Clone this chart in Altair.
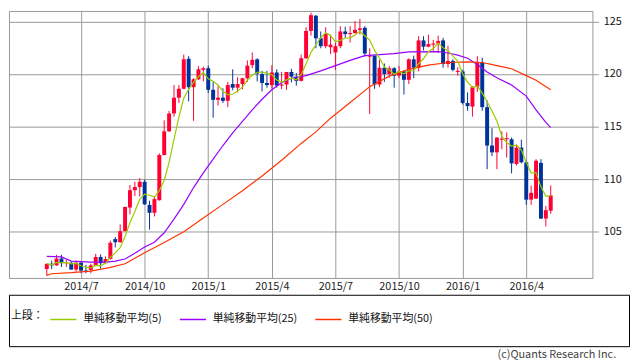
import altair as alt
import pandas as pd

# ---- weekly USD/JPY candles (week start dates) ----
start_date = "2014-05-19"
opens = [101.45, 101.95, 101.80, 102.45, 102.00, 102.05, 101.40, 102.05, 101.30, 101.35,
         101.80, 102.60, 102.00, 102.40, 104.30, 104.00, 105.05, 107.30, 108.95, 109.25,
         109.75, 107.55, 106.80, 108.00, 112.30, 114.55, 116.25, 117.75, 118.60, 121.45,
         118.75, 119.50, 120.40, 120.55, 118.50, 117.55, 117.75, 117.45, 119.05, 118.70,
         119.05, 119.60, 120.85, 121.40, 120.00, 119.15, 118.95, 120.15, 118.90, 119.00,
         120.20, 119.75, 119.35, 121.50, 124.10, 125.55, 123.40, 122.65, 122.55, 122.05,
         122.65, 124.05, 123.80, 123.90, 124.20, 124.40, 121.65, 121.75, 119.00, 120.60,
         120.00, 120.55, 119.85, 120.25, 119.45, 121.40, 120.60, 123.20, 122.60, 122.80,
         122.90, 123.20, 120.95, 121.25, 120.20, 120.25, 117.25, 116.90, 118.75, 121.10,
         116.85, 113.20, 112.55, 113.75, 113.80, 113.80, 111.45, 113.00, 111.60, 108.05,
         108.15, 111.55, 106.25, 107.00]
highs = [101.95, 102.25, 102.80, 102.80, 102.30, 102.15, 102.25, 102.10, 101.85, 101.95,
         102.90, 102.85, 102.65, 104.15, 104.50, 105.70, 107.40, 109.45, 109.75, 110.10,
         109.95, 107.95, 108.40, 112.45, 115.60, 116.50, 118.95, 118.95, 121.85, 121.70,
         119.60, 120.75, 120.70, 120.80, 119.25, 118.85, 118.65, 119.25, 120.45, 119.70,
         119.65, 121.30, 122.05, 121.50, 120.30, 120.30, 120.85, 120.45, 120.20, 120.00,
         120.50, 120.10, 121.85, 124.45, 125.85, 125.60, 124.05, 124.45, 123.75, 123.00,
         124.55, 124.50, 124.55, 125.05, 125.25, 124.55, 122.45, 121.75, 121.35, 121.00,
         120.75, 120.65, 120.75, 120.35, 121.50, 121.75, 123.60, 123.60, 123.75, 123.25,
         123.65, 123.45, 122.70, 121.40, 120.65, 120.40, 118.25, 118.85, 121.70, 121.55,
         117.50, 114.85, 114.00, 114.55, 114.45, 113.95, 113.30, 113.75, 111.75, 109.40,
         111.90, 111.90, 107.45, 109.40]
lows = [100.82, 101.45, 101.75, 101.65, 101.65, 101.40, 101.20, 101.05, 101.05, 101.05,
        101.75, 101.50, 101.95, 102.35, 103.50, 103.95, 105.05, 106.65, 108.40, 108.35,
        107.55, 105.20, 106.45, 107.95, 112.25, 114.50, 115.95, 117.25, 118.55, 117.40,
        115.55, 119.45, 119.30, 118.20, 115.85, 117.00, 117.25, 116.85, 118.45, 118.25,
        118.55, 119.25, 120.55, 119.30, 118.35, 118.70, 118.60, 118.70, 118.55, 118.50,
        119.20, 118.90, 119.30, 121.45, 123.65, 122.45, 122.45, 122.45, 121.90, 120.40,
        122.45, 123.45, 123.00, 123.85, 123.75, 121.65, 116.20, 118.60, 118.75, 119.25,
        119.65, 118.70, 119.60, 118.05, 119.05, 119.60, 120.25, 122.25, 122.55, 122.20,
        122.00, 120.60, 120.60, 120.25, 119.85, 117.10, 116.50, 115.95, 118.30, 116.50,
        110.95, 112.20, 110.95, 112.85, 112.05, 110.55, 111.30, 111.50, 107.55, 107.55,
        108.10, 106.20, 105.50, 106.70]
closes = [101.95, 101.80, 102.45, 102.00, 102.05, 101.40, 102.05, 101.30, 101.20, 101.80,
          102.60, 102.00, 102.40, 103.95, 104.00, 105.05, 107.35, 108.95, 109.25, 109.75,
          107.60, 106.80, 108.10, 112.30, 114.55, 116.25, 117.75, 118.60, 121.40, 118.75,
          119.50, 120.45, 120.55, 118.50, 117.55, 117.75, 117.45, 118.95, 118.70, 119.05,
          119.60, 120.80, 121.35, 120.05, 119.15, 118.95, 120.15, 118.90, 119.00, 120.20,
          119.75, 119.35, 121.50, 124.10, 125.60, 123.40, 122.65, 123.85, 122.80, 122.65,
          124.05, 123.80, 123.90, 124.20, 124.35, 121.95, 121.75, 119.00, 120.60, 120.00,
          120.55, 119.85, 120.25, 119.45, 121.40, 120.60, 123.20, 122.60, 122.85, 122.90,
          123.15, 120.95, 121.25, 120.40, 120.30, 117.25, 116.95, 118.75, 121.10, 116.85,
          113.20, 112.55, 113.95, 113.85, 113.90, 111.50, 113.00, 111.60, 108.05, 108.70,
          111.75, 106.25, 107.05, 108.45]

# ---- moving averages (candle index, value) ----
ma25_idx = [0, 3, 5, 9, 12, 14, 16, 18, 20, 22, 24, 26, 28, 30, 32, 34, 36, 38, 40, 42,
            44, 46, 48, 50, 53, 56, 59, 62, 65, 68, 71, 74, 80, 82, 84, 86, 88, 90, 92,
            95, 98, 100, 102, 103]
ma25_val = [102.65, 102.60, 102.20, 102.10, 102.10, 102.20, 102.40, 102.95, 103.55, 104.00,
            104.90, 106.20, 107.60, 109.20, 110.60, 111.90, 113.20, 114.40, 115.50, 116.60,
            117.60, 118.50, 119.20, 119.60, 119.85, 120.30, 120.80, 121.30, 121.75, 121.85,
            121.95, 122.10, 122.13, 122.00, 121.80, 121.50, 120.90, 120.20, 119.65, 118.95,
            117.90, 116.60, 115.40, 114.90]
ma50_idx = [0, 1, 5, 9, 13, 16, 20, 24, 28, 32, 36, 40, 44, 48, 52, 55, 58, 62, 66, 70,
            74, 78, 82, 86, 89, 92, 95, 98, 100, 103]
ma50_val = [100.85, 101.00, 101.10, 101.25, 101.60, 101.95, 103.00, 103.97, 105.00, 106.30,
            107.60, 108.90, 110.30, 111.80, 113.40, 114.50, 115.80, 117.30, 118.80, 119.80,
            120.45, 120.85, 121.10, 121.15, 121.10, 120.80, 120.50, 119.85, 119.40, 118.50]

series_names = ["単純移動平均(5)", "単純移動平均(25)", "単純移動平均(50)"]
series_colors = ["#99cc00", "#9900ff", "#ff3300"]
up_color = "#ff0033"
down_color = "#003399"
grid_color = "#999999"

quarter_ticks = [(2014, 7, 7), (2014, 10, 6), (2015, 1, 5), (2015, 4, 6),
                 (2015, 7, 6), (2015, 10, 5), (2016, 1, 4), (2016, 4, 4)]
y_ticks = [105, 110, 115, 120, 125]
FONT = "Noto Sans CJK JP"

# ---- tables ----
week_dates = pd.date_range(start_date, periods=len(opens), freq="7D")
dates = week_dates.strftime("%Y-%m-%d").tolist()
candles = pd.DataFrame({"date": dates, "open": opens, "high": highs,
                        "low": lows, "close": closes})

ma_rows = []
for name, idxs, vals in [(series_names[1], ma25_idx, ma25_val),
                         (series_names[2], ma50_idx, ma50_val)]:
    for i, v in zip(idxs, vals):
        ma_rows.append({"date": dates[i], "value": v, "series": name})
ma_df = pd.DataFrame(ma_rows)

x_enc = alt.X(
    "date:T",
    scale=alt.Scale(type="utc",
                    domain=[alt.DateTime(year=2014, month=4, date=2, utc=True),
                            alt.DateTime(year=2016, month=6, date=30, hours=14, utc=True)]),
    axis=alt.Axis(values=[alt.DateTime(year=y, month=m, date=d, utc=True) for y, m, d in quarter_ticks],
                  labelExpr="utcFormat(datum.value, '%Y/%-m')",
                  grid=True, gridColor=grid_color, gridOpacity=1, ticks=False, domain=False,
                  labelFontSize=11, labelPadding=3, labelColor="#222222", labelFlush=False,
                  labelOverlap=False, title=None),
)
y_scale = alt.Scale(domain=[100.6, 126.0], nice=False, zero=False)
y_axis = alt.Axis(orient="right", values=y_ticks, grid=True, gridColor=grid_color, gridOpacity=1,
                  tickColor=grid_color, tickSize=6, domain=False, labelFontSize=11,
                  labelPadding=5, labelColor="#111111", title=None, format="d")

candle_color = alt.condition("datum.close >= datum.open", alt.value(up_color), alt.value(down_color))
base = alt.Chart(candles)

wicks = base.mark_rule(strokeWidth=1).encode(
    x=x_enc, y=alt.Y("low:Q", scale=y_scale, axis=y_axis), y2="high:Q", color=candle_color)
bodies = base.mark_bar(size=4).encode(
    x=x_enc, y=alt.Y("open:Q", scale=y_scale, axis=y_axis), y2="close:Q", color=candle_color)

color_enc = alt.Color(
    "series:N",
    scale=alt.Scale(domain=series_names, range=series_colors),
    legend=alt.Legend(orient="none", legendX=2, legendY=298, direction="horizontal",
                      title="上段：", titleOrient="left", titleFontSize=11, titleFontWeight="normal",
                      titleColor="#111111", titlePadding=6, titleBaseline="middle",
                      symbolType="stroke", symbolSize=700, symbolStrokeWidth=1.5,
                      labelFontSize=11, labelColor="#111111", labelOffset=6, labelLimit=0,
                      columnPadding=14),
)

ma5 = base.transform_window(
    value="mean(close)", frame=[-4, 0], sort=[alt.SortField("date")]
).transform_calculate(series=f"'{series_names[0]}'").mark_line(strokeWidth=1.2).encode(
    x=x_enc, y=alt.Y("value:Q", scale=y_scale, axis=y_axis), color=color_enc)

ma_long = alt.Chart(ma_df).mark_line(strokeWidth=1.2).encode(
    x=x_enc, y=alt.Y("value:Q", scale=y_scale, axis=y_axis), color=color_enc)

top = alt.layer(wicks, bodies, ma_long, ma5).properties(
    width=590, height=270,
    view=alt.ViewBackground(stroke=grid_color, strokeWidth=1))

box = alt.Chart(pd.DataFrame({"v": [0]})).mark_point(opacity=0).encode(
    x=alt.X("v:Q", axis=None), y=alt.Y("v:Q", axis=None)
).properties(
    width=627, height=52,
    view=alt.ViewBackground(stroke="#000000", strokeWidth=1),
    title=alt.TitleParams("(c)Quants Research Inc.", orient="bottom", anchor="end",
                          fontSize=11, fontWeight="normal", color="#444444", offset=3, dx=-13),
)

chart = alt.vconcat(top, box, spacing=1).properties(padding=0).configure(font=FONT)

chart.save("out.html", embed_options={"renderer": "svg", "actions": False})
